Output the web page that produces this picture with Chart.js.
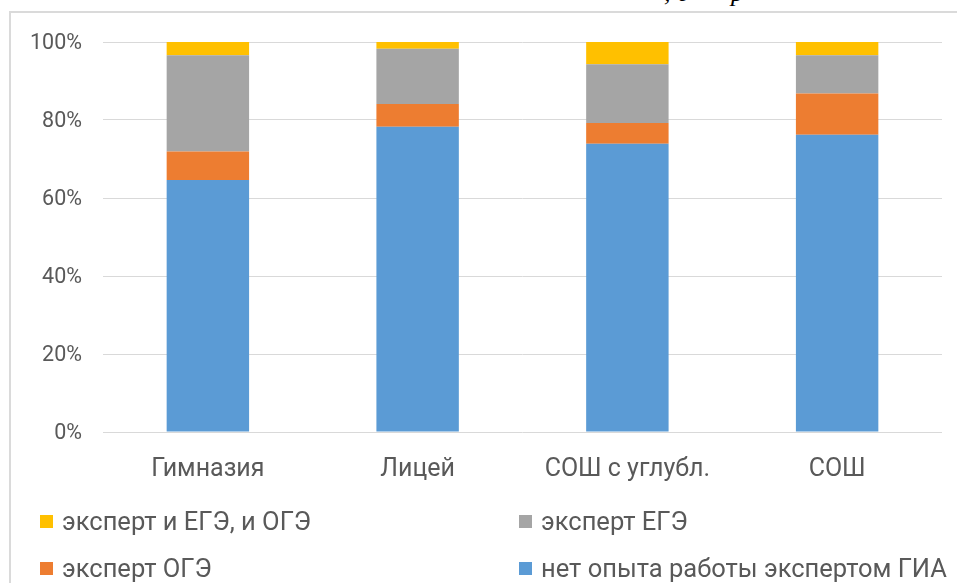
<!DOCTYPE html>
<html>
<head>
<meta charset="utf-8">
<script src="https://cdn.jsdelivr.net/npm/chart.js@4/dist/chart.umd.min.js"></script>
<style>
  html, body { margin: 0; padding: 0; background: #ffffff; }
  #wrap { position: relative; width: 957px; height: 583px; overflow: hidden; background: #fff; }
  #frameTop { position: absolute; left: 10px; top: 11px; width: 947px; height: 2px; background: #dadada; }
  #frameLeft { position: absolute; left: 9px; top: 11px; width: 2px; height: 572px; background: #dadada; }
  #cut { position: absolute; left: 0; top: 0; width: 957px; height: 10px; overflow: hidden; }
  #cut span { position: absolute; top: -20px; font-family: "Liberation Serif", serif; font-style: italic; font-size: 26px; line-height: 26px; color: #000; }
  #chartBox { position: absolute; left: 0; top: 0; width: 957px; height: 583px; }
  .lg { position: absolute; height: 30px; display: flex; align-items: center; font-family: Roboto, sans-serif; font-size: 25.5px; color: #595959; white-space: nowrap; }
  .lg i { display: inline-block; width: 13px; height: 13px; margin-right: 9px; }
</style>
</head>
<body>
<div id="wrap">
  <div id="cut"><span style="left:664px">, д</span><span style="left:731px">р</span></div>
  <div id="frameTop"></div>
  <div id="frameLeft"></div>
  <div id="chartBox"><canvas id="c" width="957" height="583"></canvas></div>
  <div id="legend"></div>
</div>
<script>
// ---- data ----
const categories = ["Гимназия", "Лицей", "СОШ с углубл.", "СОШ"];
const seriesNames = ["нет опыта работы экспертом ГИА", "эксперт ОГЭ", "эксперт ЕГЭ", "эксперт и ЕГЭ, и ОГЭ"];
const noExperience = [64.6, 78.3, 73.9, 76.2];
const expertOGE    = [7.3, 5.8, 5.3, 10.6];
const expertEGE    = [24.7, 14.2, 15.1, 9.8];
const expertBoth   = [3.4, 1.7, 5.7, 3.4];
const yTicks = [0, 20, 40, 60, 80, 100];
const colors = ["#5b9bd5", "#ed7d31", "#a5a5a5", "#ffc000"];

const seriesValues = [noExperience, expertOGE, expertEGE, expertBoth];
const datasets = seriesNames.map((name, i) => ({
  label: name,
  data: seriesValues[i],
  backgroundColor: colors[i],
  borderWidth: 0,
  barPercentage: 0.393,
  categoryPercentage: 1.0
}));

const textColor = "#595959";
const chart = new Chart(document.getElementById("c"), {
  type: "bar",
  data: { labels: categories, datasets },
  options: {
    responsive: false,
    animation: false,
    devicePixelRatio: 1,
    layout: { padding: { top: 42, right: 15, bottom: 0, left: 0 } },
    plugins: { legend: { display: false }, tooltip: { enabled: false } },
    scales: {
      x: {
        stacked: true,
        grid: { display: false, drawTicks: false },
        border: { display: false },
        ticks: { color: textColor, font: { family: "Roboto", size: 25 }, padding: 23, maxRotation: 0 },
        afterFit: (s) => { s.height = 583 - 432; }
      },
      y: {
        stacked: true,
        min: 0, max: 100,
        afterBuildTicks: (s) => { s.ticks = yTicks.map(v => ({ value: v })); },
        grid: { color: "#d9d9d9", lineWidth: 1, drawTicks: false },
        border: { display: false },
        ticks: { color: textColor, font: { family: "Roboto", size: 21.5 }, padding: 21, labelOffset: 2, callback: (v) => v + "%" },
        afterFit: (s) => { s.width = 103; }
      }
    }
  }
});

// ---- legend (two columns, reverse order as in the original) ----
const legendPos = [
  { idx: 3, x: 40, y: 506 },
  { idx: 2, x: 519, y: 506 },
  { idx: 1, x: 40, y: 553 },
  { idx: 0, x: 519, y: 553 }
];
const lg = document.getElementById("legend");
legendPos.forEach(p => {
  const d = document.createElement("div");
  d.className = "lg";
  d.style.left = p.x + "px";
  d.style.top = p.y + "px";
  const sw = document.createElement("i");
  sw.style.background = colors[p.idx];
  d.appendChild(sw);
  d.appendChild(document.createTextNode(seriesNames[p.idx]));
  lg.appendChild(d);
});
</script>
</body>
</html>
